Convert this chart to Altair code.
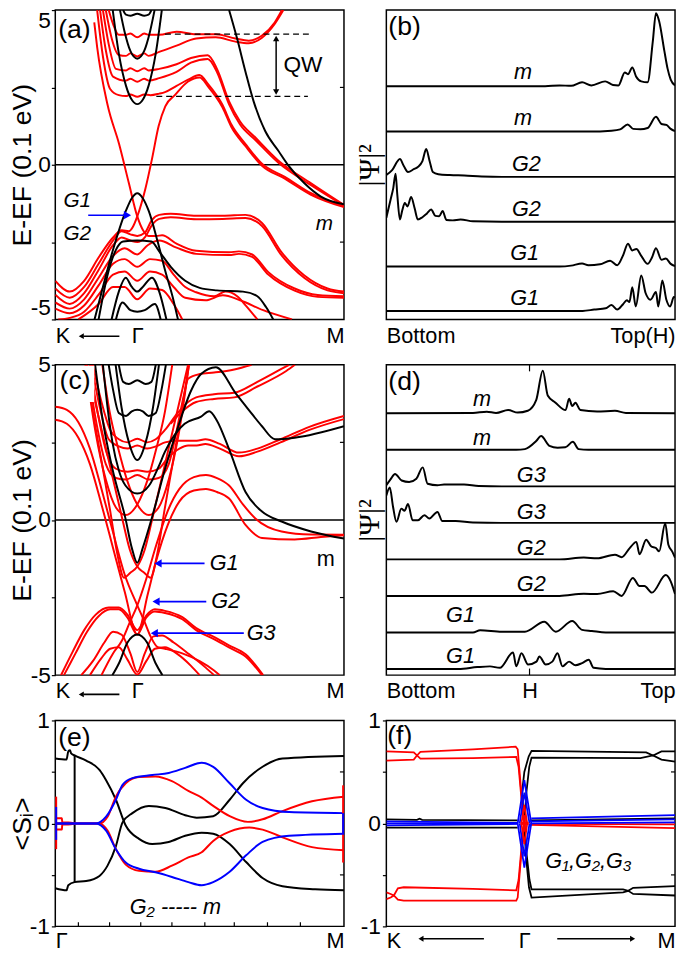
import altair as alt
import pandas as pd

FONT = "Liberation Sans"
RED, BLUE, BLACK = "#ff0000", "#0000ff", "#000000"

# ================= (a) band structure: k (K=0, Gamma=28.4, M=100), E (0.1 eV) =================
a_Q1 = [(18.5,5.0),(20,4.55),(22,4.2),(24.5,4.2),(26,4.24),(28.4,4.12),(30.8,4.24),(32.3,4.2),(36,4.2),(42,4.3),(48.8,4.22),(55.6,4.22),(62.4,4.08),(67,4.01),(71.5,4.17),(76,4.6),(78.5,5.0)]
a_Q1b = [(17.5,5.0),(19.5,4.1),(22,3.55),(24.5,3.52),(26,3.6),(28.4,3.5),(30.8,3.6),(32.3,3.52),(36,3.65),(42,3.85),(48.8,4.08),(55.6,4.12),(62.4,3.98),(67,3.93),(71.5,4.1),(76,4.55),(79,5.0)]
a_Q2 = [(16.5,5.0),(18.5,3.9),(21,3.1),(24.5,3.05),(26,3.12),(28.4,3.02),(30.8,3.12),(32.3,3.05),(36,3.1),(42,3.25),(47,3.45),(52.8,3.54),(56,3.1),(60.2,2.05),(64,1.4),(69.3,0.88),(77.2,0.14),(88.6,-0.6),(100,-1.3)]
a_Q3 = [(15.5,5.0),(17.5,3.7),(20,2.85),(24.5,2.72),(26,2.78),(28.4,2.68),(30.8,2.78),(32.3,2.72),(36,2.8),(42,3.0),(47,3.3),(52.8,3.42),(56,3.0),(60.2,1.95),(64,1.3),(69.3,0.8),(77.2,0.07),(88.6,-0.66),(100,-1.32)]
a_Q4 = [(14.5,5.0),(16.5,3.5),(19,2.45),(22,2.25),(24.5,2.22),(26,2.27),(28.4,2.2),(30.8,2.27),(33,2.25),(36,2.3),(38,2.35),(42,2.55),(46,2.75),(49.9,2.9),(53,2.6),(57.9,1.94),(61,1.3),(65.9,0.67),(71.6,0.03),(79.5,-0.39),(88.6,-0.92),(100,-1.35)]
a_Xr = [(0,-3.75),(5,-4.1),(10,-3.75),(15,-3.0),(20,-2.35),(23,-2.12),(25.5,-2.15),(26.8,-2.02),(28.4,-1.67),(31.25,-0.76),(33.5,0.19),(35.8,1.25),(38.1,1.89),(41.5,2.26),(46,2.69),(50,2.82),(53,2.52),(57.9,1.86),(61,1.22),(65.9,0.6),(71.6,-0.03),(79.5,-0.45),(88.6,-0.97),(100,-1.37)]
a_Xl = [(13.5,4.6),(14.5,3.8),(18.1,1.94),(22.1,0.67),(25.5,-0.6),(28.4,-1.67),(30.3,-2.1),(32.3,-2.3),(35,-2.3),(37,-2.28),(42,-2.55),(48.8,-2.78),(60.2,-2.83),(63.6,-2.8),(68.2,-2.9),(73.8,-3.47),(82.9,-4.0),(90.9,-4.21),(100,-4.25)]
a_V1 = [(0,-4.0),(5,-4.3),(10,-3.95),(15,-3.2),(20,-2.45),(23,-2.15),(26,-2.25),(28.4,-2.3),(31,-2.2),(33.5,-1.78),(36,-1.62),(40,-1.58),(48.8,-1.65),(58,-1.65),(65.9,-1.62),(71.6,-1.88),(78.4,-2.83),(86.3,-3.58),(94.3,-4.0),(100,-4.1)]
a_V1b = [(0,-4.2),(5,-4.5),(10,-4.15),(15,-3.4),(20,-2.6),(23,-2.35),(26,-2.45),(28.4,-2.5),(31,-2.35),(33.5,-1.95),(36,-1.75),(40,-1.7),(48.8,-1.76),(58,-1.75),(65.9,-1.72),(71.6,-1.98),(78.4,-2.93),(86.3,-3.66),(94.3,-4.06),(100,-4.15)]
a_V2b = [(0,-4.45),(5,-4.65),(10,-4.35),(15,-3.65),(20,-2.95),(24,-2.7),(28.4,-2.9),(32,-2.6),(36,-2.45),(42,-2.68),(48.8,-2.88),(60.2,-2.92),(63.6,-2.88),(68.2,-2.98),(73.8,-3.55),(82.9,-4.07),(90.9,-4.27),(100,-4.3)]
a_V3 = [(0,-4.65),(5,-4.8),(10,-4.55),(15,-3.9),(20,-3.2),(24,-3.05),(28.4,-3.3),(32.8,-3.05),(37,-3.1),(41,-3.55),(45,-3.95),(48.8,-4.12),(55,-4.25),(59,-4.1),(63,-4.25),(66,-4.55),(70,-5.0)]
a_V4 = [(1,-5.0),(5,-4.95),(10,-4.75),(15,-4.2),(20,-3.55),(24,-3.45),(28.4,-3.75),(32.8,-3.45),(37,-3.55),(41,-3.95),(45,-4.3),(52,-4.38),(58,-4.22),(64,-4.38),(72,-4.7),(82,-5.0)]
a_V5 = [(8,-5.0),(15,-4.5),(20,-3.95),(24,-3.95),(28.4,-4.35),(32.8,-4.0),(37,-4.05),(41,-4.5),(44,-5.0)]
A_RED = [a_Q1, a_Q1b, a_Q2, a_Q3, a_Q4, a_Xr, a_Xl, a_V1, a_V1b, a_V2b, a_V3, a_V4, a_V5]

a_B1 = [(19.9,5.0),(22,3.6),(24.5,2.55),(26.5,2.1),(28.4,1.96),(30.3,2.1),(32.3,2.55),(34.8,3.6),(36.9,5.0)]
a_B2 = [(22.4,5.0),(24,4.3),(26,3.68),(28.4,3.43),(30.8,3.68),(32.8,4.3),(34.4,5.0)]
a_B3 = [(23.5,5.0),(24.5,4.85),(26,4.82),(28.4,4.88),(30.8,4.82),(32.3,4.85),(33.3,5.0)]
a_B4 = [(60.2,5.0),(63,4.07),(65.9,3.0),(68.7,2.05),(72.7,1.09),(77.2,0.46),(80.7,-0.02),(86.3,-0.6),(92,-1.03),(100,-1.28)]
a_B5 = [(13.6,-5.0),(16.5,-3.95),(19.9,-2.78),(24.4,-1.5),(26.5,-1.08),(28.4,-0.92),(30.3,-1.08),(32.4,-1.5),(35.5,-2.5),(38,-3.4),(41,-4.4),(42.5,-5.0)]
a_B6 = [(15,-5.0),(18,-3.6),(21,-2.75),(23.5,-2.48),(28.4,-2.45),(33.3,-2.48),(36,-2.8),(40,-3.3),(45,-3.75),(50,-3.98),(56,-4.06),(65,-4.1),(70,-4.25),(73,-4.6),(75.5,-5.0)]
a_B7 = [(19.5,-5.0),(22,-4.1),(24.4,-3.65),(26.5,-3.95),(28.4,-4.1),(30.3,-3.95),(33.5,-3.65),(36,-4.1),(38.5,-5.0)]
a_B8 = [(21,-5.0),(23.3,-4.45),(26,-4.7),(28.4,-4.75),(31,-4.7),(34.5,-4.5),(36.5,-5.0)]
A_BLACK = [a_B1, a_B2, a_B3, a_B4, a_B5, a_B6, a_B7, a_B8]

# ================= (c) band structure =================
c_Q1 = [(13,5.0),(16,3.8),(19,2.9),(22,2.6),(25,2.5),(28.4,2.62),(31.8,2.5),(34.8,2.6),(38,2.9),(42,3.4),(46,3.8),(48.8,3.95),(55,4.05),(62,4.1),(70,4.45),(78,4.85),(81,5.0)]
c_Q2 = [(12.5,5.0),(15.5,3.6),(18.5,2.6),(22,2.37),(25,2.3),(28.4,2.4),(31.8,2.3),(34.8,2.37),(38,2.5),(42,2.55),(46,2.55),(49,2.55),(52,2.6),(57,2.45),(63.6,2.17),(70,2.3),(78,2.6),(88,3.0),(100,3.35)]
c_Q3 = [(12,5.0),(15,3.3),(18,2.1),(21,1.65),(25,1.55),(28.4,1.6),(31.8,1.55),(35.8,1.65),(39,2.0),(43,2.3),(46,2.4),(49,2.4),(52,2.45),(57,2.3),(63.6,2.05),(70,2.2),(78,2.5),(88,2.9),(100,3.25)]
c_Q4 = [(11,5.0),(14.5,3.0),(17.5,1.8),(21,1.35),(24.5,1.3),(28.4,1.45),(32.3,1.3),(35.8,1.35),(39.3,1.8),(42.3,3.0),(44.5,4.0),(46,4.55),(50,4.7),(55,4.75),(62,4.85),(68,5.0)]
c_Q5a = [(10.5,5.0),(14,2.8),(17.5,1.3),(21,0.4),(24.4,0.16),(28.4,0.5),(32,1.3),(35,2.3),(38,3.5),(40.5,5.0)]
c_Q5b = [(16.3,5.0),(18.8,3.5),(21.8,2.3),(24.8,1.3),(28.4,0.5),(32.4,0.16),(35.8,0.4),(39.3,1.3),(42.8,2.8),(46.3,5.0)]
c_TR = [(40,3.1),(44,3.5),(48.8,3.8),(55,3.9),(62,3.95),(70,4.3),(80,4.8),(83,5.0)]
c_GL = [(10.5,5.0),(13,3.5),(16,1.9),(19,0.3),(21.5,-1.1),(23.8,-1.86),(26,-1.7),(28.4,-1.5),(31,-0.95),(33.5,0.0),(36,1.0),(38.5,2.0),(41,3.0),(43.5,4.0),(46,5.0)]
c_GR = [(10.8,5.0),(13.3,4.0),(15.8,3.0),(18.3,2.0),(20.8,1.0),(23.3,0.0),(25.8,-0.95),(28.4,-1.5),(30.8,-1.7),(33,-1.86),(35.3,-1.1),(37.8,0.3),(40.8,1.9),(43.8,3.5),(46.3,5.0)]
c_P = [(0,3.65),(4,3.55),(8,3.15),(12,2.3),(16,1.0),(20,-0.4),(24,-1.75),(28.4,-2.75),(31,-3.3),(33,-3.75),(35.5,-4.1),(38,-4.15),(44,-4.3),(50,-4.55),(55,-4.85),(57,-5.0)]
c_P2 = [(0,3.23),(4,3.1),(8,2.65),(12,1.8),(16,0.5),(20,-0.9),(24,-2.3),(28.4,-3.69),(32,-2.4),(35,-1.3),(39,-0.15),(43,0.6),(48,0.95),(52.2,1.0),(56,0.9),(60.2,0.69),(65.9,-0.16),(71.6,-0.58),(82.9,-0.63),(92,-0.55),(100,-0.49)]
c_Q = [(16,-5.0),(20,-4.3),(23,-3.9),(25.8,-3.3),(28.4,-2.75),(31.5,-1.9),(35,-0.8),(39,0.3),(43,1.0),(48,1.38),(52.2,1.45),(56,1.35),(60.2,1.11),(65,0.5),(69.3,0.05),(78.4,-0.37),(88.6,-0.47),(100,-0.48)]
c_T = [(3,-5.0),(7,-4.3),(11,-3.6),(15,-3.1),(19,-2.88),(22,-2.88),(25,-3.15),(28.4,-3.69),(31.5,-3.15),(34.5,-2.95),(38,-3.0),(44,-3.2),(48.8,-3.55),(55.6,-3.87),(60,-4.1),(65.9,-4.4),(71.6,-5.0)]
c_T2 = [(2,-5.0),(6,-4.25),(10,-3.55),(14,-3.05),(18.5,-2.82),(22,-2.82),(25,-3.05),(28.4,-3.55),(31.5,-3.08),(34.5,-2.88),(38,-2.93),(44,-3.13),(48.8,-3.48),(55.6,-3.8),(60,-4.03),(65.9,-4.33),(72,-5.0)]
c_U = [(9,-5.0),(13,-4.55),(17,-3.95),(20,-3.6),(23,-3.7),(26,-4.3),(28.4,-4.9),(31,-4.3),(34,-3.75),(37,-3.72),(41,-3.95),(46,-4.3),(52,-4.75),(55,-5.0)]
c_U2 = [(12,-5.0),(16,-4.45),(19,-4.15),(22,-4.1),(25,-4.5),(28.4,-4.98),(31.5,-4.55),(34.5,-4.15),(38,-4.1),(42,-4.3),(47,-4.7),(50,-5.0)]
C_RED = [c_Q1, c_Q2, c_Q3, c_Q4, c_Q5a, c_Q5b, c_TR, c_GL, c_GR, c_P, c_P2, c_Q, c_T, c_T2, c_U, c_U2]

c_BA = [(13.8,5.0),(16.4,3.23),(19.8,1.64),(24.3,0.05),(26.5,-0.9),(28.4,-1.38),(30.3,-0.9),(33.4,0.05),(38,1.64),(42.6,3.02),(47.1,4.18),(50.5,4.7),(55.6,4.92),(62.5,4.08),(67,3.55),(71.6,3.02),(76.1,2.6),(82.9,2.65),(100,3.02)]
c_BB = [(16.5,5.0),(18,3.7),(19.8,2.5),(22,1.6),(24.3,1.11),(28.4,0.85),(32.5,1.11),(35.7,1.7),(38,2.2),(41.4,2.75),(44.8,3.1),(50.5,3.33),(53.3,3.5),(56,3.2),(60.2,2.28),(65.9,0.9),(71.6,0.27),(78.4,-0.05),(88.6,-0.37),(100,-0.6)]
c_BC = [(20.9,5.0),(23,3.6),(25.5,2.5),(28.4,1.93),(31.3,2.5),(33.8,3.6),(35.9,5.0)]
c_BD = [(18.5,5.0),(20,4.2),(22,3.45),(24.5,3.35),(26.5,3.5),(28.4,3.55),(30.3,3.5),(32.3,3.35),(34.8,3.45),(36.8,4.2),(38.3,5.0)]
c_BE = [(22,5.0),(23.5,4.45),(25.5,4.38),(28.4,4.5),(31.3,4.38),(33.3,4.45),(34.8,5.0)]
c_BV = [(19.8,-5.0),(22.1,-4.61),(25,-3.95),(28.4,-3.69),(31.8,-3.95),(34.7,-4.61),(37.1,-5.0)]
C_BLACK = [c_BA, c_BB, c_BC, c_BD, c_BE, c_BV]

# ================= (b), (d) |Psi|^2 profiles: (position, height above baseline) =================
b_m_top = [(0,0),(55,0),(60,0.02),(64,0.01),(67.8,0.09),(71,0.02),(75.8,0.11),(78.5,0.03),(80.4,0.02),(82.6,0.31),(83.7,0.27),(85.2,0.42),(86.5,0.22),(88.3,0.11),(90.5,0.09),(92.3,1.0),(93.4,1.63),(94.5,1.45),(96.3,0.79),(97.4,0.4),(98.5,0.15),(100,0.02)]
b_m_2 = [(0,0),(70,0),(78,0.02),(81,0.05),(83.6,0.16),(85.5,0.06),(88,0.05),(90.5,0.08),(93.4,0.33),(95.3,0.17),(97,0.15),(98.5,0.06),(100,0.01)]
b_G2_a = [(0,0.04),(2,0.15),(4.7,0.4),(6,0.25),(7.5,0.11),(9.5,0.17),(10.9,0.22),(12.5,0.35),(13.8,0.62),(15,0.35),(16.1,0.11),(18,0.06),(22,0.04),(27,0.03),(33,0.01),(40,0),(100,0)]
b_G2_b = [(0,0.09),(1.5,0.5),(2.4,0.75),(3.2,1.07),(3.8,0.6),(4.7,0.05),(5.5,0.25),(6.4,0.42),(7.3,0.34),(8.6,0.55),(9.8,0.3),(10.9,0.05),(12.5,0.1),(14,0.18),(15.5,0.27),(17,0.13),(18.3,0.12),(19.5,0.24),(20.8,0.04),(23,0.03),(25.7,0.05),(30,0.01),(40,0),(100,0)]
b_G1_a = [(0,0),(60,0),(64,0.02),(67.8,0.07),(70,0.03),(74,0.05),(77.5,0.13),(80,0.03),(82,0.25),(83.7,0.51),(85.2,0.36),(86.6,0.39),(88.3,0.24),(90.5,0.06),(92,0.2),(93.4,0.41),(95.3,0.15),(96.8,0.18),(98.5,0.06),(100,0.01)]
b_G1_b = [(0,0),(68,0),(72,0.03),(76,0.06),(78,0.13),(80,0.03),(82,0.15),(83.3,0.24),(84.2,0.2),(85.2,0.53),(86.4,0.1),(88.3,0.79),(89.8,0.4),(91.5,0.25),(93.4,0.42),(94.2,0.1),(95.6,0.68),(97,0.25),(98.3,0.1),(99.6,0.31),(100,0.3)]
B_TRACES = [b_G1_b, b_G1_a, b_G2_b, b_G2_a, b_m_2, b_m_top]
B_BASE = [0.19, 1.18, 2.18, 3.18, 4.19, 5.2]
B_LABELS = ["G1", "G1", "G2", "G2", "m", "m"]
B_LABEL_X = [47.9, 47.9, 48.5, 48.5, 47.3, 47.3]
B_LABEL_DY = [0.29, 0.29, 0.29, 0.29, 0.31, 0.31]

d_m_top = [(0,0),(30,0.01),(34.8,0.045),(38,0.01),(42.2,0.09),(45.5,0.02),(49,0.07),(51.9,0.36),(54.2,1.17),(55.9,0.49),(58.5,0.3),(62.1,0.09),(63.3,0.4),(64.4,0.2),(65.5,0.29),(67.2,0.09),(73,0.05),(79.2,0.07),(83,0.01),(100,0)]
d_m_2 = [(0,0),(45,0),(48,0.02),(51.9,0.24),(53.6,0.38),(56.5,0.11),(59.3,0.06),(62,0.07),(64.6,0.22),(66.6,0.02),(70,0),(100,0)]
d_G3_a = [(0,0.03),(1.5,0.2),(3,0.34),(5.3,0.16),(7.9,0.12),(10.4,0.21),(12.6,0.52),(14.3,0.07),(17.7,0.03),(20,0.05),(26.9,0.05),(32,0.01),(40,0),(100,0)]
d_G3_b = [(0,0.75),(1.2,0.97),(2.3,0.45),(3.5,0.03),(5.2,0.39),(6.3,0.33),(7.5,0.52),(9.1,0.07),(10.9,0.07),(13.2,0.21),(14.9,0.12),(17.7,0.3),(19.4,0.05),(24,0.05),(30,0.01),(40,0),(100,0)]
d_G2_a = [(0,0),(60,0),(68.4,0.05),(73,0.03),(79.2,0.13),(81.5,0.06),(84.3,0.31),(86.6,0.48),(87.7,0.14),(90,0.54),(91.7,0.36),(93.4,0.31),(94.5,0.22),(96.6,0.99),(97.7,0.4),(99,0.22),(100,0.05)]
d_G2_b = [(0,0),(60,0),(68.4,0.06),(73,0.05),(78.6,0.13),(81.5,0.0),(85.4,0.49),(87.7,0.27),(89.4,0.27),(92,0.09),(96.8,0.57),(98.5,0.4),(100,0.05)]
d_G1_a = [(0,0),(30,0),(32.5,0.06),(40,0.02),(48,0.02),(54.7,0.29),(58.7,0.02),(64.4,0.31),(67.8,0.07),(71.2,0.04),(76,0.0),(100,0)]
d_G1_b = [(0,0),(25,0),(31.5,0.05),(35.9,0.07),(39.3,0.03),(43.9,0.45),(45,0.07),(46.8,0.43),(49.1,0.12),(52,0.2),(53,0.34),(55.2,0.12),(57.5,0.2),(59.3,0.43),(61,0.07),(63.3,0.2),(65.5,0.1),(67.8,0.16),(70.1,0.25),(71.8,0.03),(76,0.0),(100,0)]
D_TRACES = [d_G1_b, d_G1_a, d_G2_b, d_G2_a, d_G3_b, d_G3_a, d_m_2, d_m_top]
D_BASE = [0.17, 1.17, 2.17, 3.17, 4.17, 5.17, 6.17, 7.17]
D_LABELS = ["G1", "G1", "G2", "G2", "G3", "G3", "m", "m"]
D_LABEL_X = [25.7, 25.7, 50.2, 50.2, 50.2, 50.2, 33.1, 33.1]
D_LABEL_DY = [0.34, 0.47, 0.31, 0.31, 0.30, 0.30, 0.33, 0.40]

# ================= (e) spin components along Gamma-M =================
e_black_a = [(0,0.63),(3.9,0.62),(4.5,0.70),(5.1,0.71),(5.5,0.68),(6.7,0.66),(10.7,0.61),(15.3,0.52),(17.6,0.42),(21,0.23),(24.4,-0.02),(29,-0.15),(33.6,-0.2),(39.3,-0.18),(45,-0.12),(50.7,-0.09),(54.7,-0.1),(60.4,-0.2),(66.1,-0.375),(71.8,-0.53),(78.7,-0.61),(90,-0.64),(100,-0.65)]
e_black_b = [(0,-0.63),(3.9,-0.65),(4.5,-0.6),(6.7,-0.57),(10.7,-0.56),(15.3,-0.51),(18.1,-0.41),(21,-0.22),(23.3,0.01),(26.7,0.10),(32.4,0.17),(38.1,0.15),(45,0.08),(49,0.056),(54.7,0.07),(60.4,0.23),(65,0.39),(71.8,0.55),(78.7,0.63),(100,0.655)]
e_red_a = [(0,0.0),(15.3,0.0),(18.1,0.065),(21,0.26),(24.4,0.39),(29,0.45),(34.7,0.455),(40.4,0.41),(46.1,0.315),(50.7,0.25),(54.7,0.17),(60.4,0.07),(66.7,0.015),(71.8,0.04),(78.7,0.12),(88.9,0.215),(100,0.26)]
e_red_b = [(0,0.0),(15.3,0.0),(18.1,-0.07),(21,-0.25),(24.4,-0.4),(29,-0.46),(34.7,-0.47),(40.4,-0.41),(46.1,-0.33),(50.7,-0.28),(54.7,-0.17),(60.4,-0.08),(67.2,-0.04),(71.8,-0.06),(78.7,-0.135),(88.9,-0.23),(100,-0.26)]
e_red_c = [(0,0.05),(2.3,0.05),(2.4,0.01),(4.5,0.01),(6.7,0.0)]
e_red_d = [(0,-0.06),(2.3,-0.06),(2.4,-0.01),(4.5,-0.01),(6.7,0.0)]
e_blue_a = [(0,0.0),(14.1,0.0),(17.6,0.065),(21,0.23),(23.3,0.375),(26.7,0.44),(33.6,0.47),(39.3,0.49),(45,0.54),(50.7,0.59),(54.7,0.55),(60.4,0.39),(66.1,0.23),(71.8,0.15),(81,0.11),(100,0.10)]
e_blue_b = [(0,0.0),(14.1,0.0),(17.6,-0.07),(21,-0.25),(24.4,-0.38),(29,-0.44),(34.7,-0.475),(40.4,-0.52),(46.1,-0.57),(50.7,-0.6),(54.7,-0.57),(60.4,-0.47),(66.1,-0.31),(71.8,-0.18),(81,-0.12),(100,-0.10)]
E_BLACK = [e_black_a, e_black_b]
E_RED = [e_red_a, e_red_b, e_red_c, e_red_d]
E_BLUE = [e_blue_a, e_blue_b]

# ================= (f) spin components along K-Gamma-M (Gamma = 47.8) =================
f_red_u1 = [(0,0.70),(9.5,0.69),(10.6,0.66),(11.8,0.63),(30,0.635),(45,0.645),(45.8,0.55),(46.6,0.3),(47.3,0.1),(47.8,0.0)]
f_red_u2 = [(0,0.61),(9.5,0.62),(10.6,0.66),(11.8,0.695),(30,0.72),(44.8,0.745),(45.5,0.72),(46.3,0.45),(47.1,0.18),(47.8,0.0)]
f_red_l1 = [(0,-0.67),(1.5,-0.685),(2.6,-0.70),(4,-0.63),(6,-0.62),(30,-0.635),(45,-0.65),(45.8,-0.55),(46.6,-0.3),(47.3,-0.1),(47.8,0.0)]
f_red_l2 = [(0,-0.735),(1.5,-0.72),(2.6,-0.70),(4,-0.74),(6,-0.75),(30,-0.75),(45,-0.75),(45.5,-0.72),(46.3,-0.45),(47.1,-0.18),(47.8,0.0)]
f_red_c1 = [(46.8,0.0),(47.8,0.18),(48.8,0.0)]
f_red_c2 = [(46.8,0.0),(47.8,-0.2),(48.8,0.0)]
f_red_r1 = [(49.8,-0.015),(100,-0.045)]
f_red_r2 = [(49.8,-0.005),(100,-0.01)]
f_black_u1 = [(47.8,0.0),(47.0,0.3),(47.8,0.5),(49.3,0.65),(50.3,0.705),(90,0.69),(92.4,0.66),(95.3,0.70),(100,0.70)]
f_black_u2 = [(47.8,0.0),(48.5,0.3),(49.5,0.55),(50.3,0.64),(88,0.635),(92.4,0.66),(95.3,0.62),(100,0.60)]
f_black_l1 = [(47.8,0.0),(48.6,-0.3),(49.6,-0.55),(50.3,-0.64),(82,-0.64),(83.8,-0.655),(85.5,-0.625),(100,-0.61)]
f_black_l2 = [(47.8,0.0),(48.3,-0.3),(49.4,-0.62),(50.3,-0.72),(82,-0.67),(83.8,-0.655),(85.5,-0.685),(100,-0.70)]
f_black_z1 = [(0,0.04),(10.6,0.035),(11.5,0.045),(12.4,0.035),(45.5,0.03)]
f_black_z2 = [(0,-0.04),(45.5,-0.04)]
f_black_r = [(49.8,0.03),(100,0.05)]
f_blue_z1 = [(0,0.02),(45.5,0.005)]
f_blue_z2 = [(0,0.0),(45.5,0.0)]
f_blue_z3 = [(0,-0.02),(45.5,-0.005)]
f_blue_d1 = [(45.5,0.0),(47.8,0.42),(50.2,0.0)]
f_blue_d2 = [(45.5,0.0),(47.8,-0.43),(50.2,0.0)]
f_blue_d3 = [(46.2,0.0),(47.8,0.3),(49.6,0.0)]
f_blue_d4 = [(46.2,0.0),(47.8,-0.32),(49.6,0.0)]
f_blue_r1 = [(50.2,0.05),(100,0.08)]
f_blue_r2 = [(50.2,0.02),(100,0.04)]
f_blue_r3 = [(50.2,0.0),(100,0.01)]
F_BLACK = [f_black_u1, f_black_u2, f_black_l1, f_black_l2, f_black_z1, f_black_z2, f_black_r]
F_RED = [f_red_u1, f_red_u2, f_red_l1, f_red_l2, f_red_r1, f_red_r2]
F_BLUE = [f_blue_z1, f_blue_z2, f_blue_z3, f_blue_d1, f_blue_d2, f_blue_d3, f_blue_d4, f_blue_r1, f_blue_r2, f_blue_r3]
F_RED_TOP = [f_red_c1, f_red_c2]

# inner tick positions on the frames
BAND_RIGHT_TICKS = [-2.5, 2.5]
SPIN_RIGHT_TICKS = [-0.5, 0.5]
E_BOTTOM_TICKS = [8, 18.8, 29.6, 40.4, 51.8, 62, 73.5, 84.9]


# ================= helpers =================
def curves_df(curves, color, tag, bases=None):
    rows = []
    for n, pts in enumerate(curves):
        b = bases[n] if bases else 0.0
        for i, (k, e) in enumerate(pts):
            rows.append({"k": k, "E": b + e, "id": f"{tag}{n}", "i": i, "c": color})
    return pd.DataFrame(rows)


def lines(df, X, Y, width=2.0, interp="monotone"):
    return alt.Chart(df).mark_line(clip=True, strokeWidth=width, interpolate=interp).encode(
        x=X, y=Y, color=alt.Color("c:N", scale=None), detail="id:N", order="i:Q")


def segs(rows, X, Y, **kw):
    return alt.Chart(pd.DataFrame(rows)).mark_rule(**kw).encode(
        x=X, x2="k2:Q", y=Y, y2="E2:Q", color=alt.Color("c:N", scale=None))


def heads(rows, X, Y, size=60):
    return alt.Chart(pd.DataFrame(rows)).mark_point(filled=True, opacity=1, size=size).encode(
        x=X, y=Y, shape=alt.Shape("s:N", scale=None), color=alt.Color("c:N", scale=None))


def texts(rows, X, Y, size=22, style="normal", align="center", baseline="middle", font=FONT):
    return alt.Chart(pd.DataFrame(rows)).mark_text(
        font=font, fontSize=size, fontStyle=style, align=align, baseline=baseline, color="black"
    ).encode(x=X, y=Y, text="t:N")


def right_ticks(vals, length):
    return [{"k": 100 - length, "k2": 100, "E": v, "E2": v, "c": BLACK} for v in vals]


def xscale():
    return alt.Scale(domain=[0, 100], nice=False, zero=False)


def band_axes(with_flush):
    X = alt.X("k:Q", scale=xscale(), axis=alt.Axis(
        values=[0, 28.4, 100], labelExpr="datum.value == 0 ? 'K' : (datum.value == 100 ? 'M' : 'Γ')",
        labelFlush=True, ticks=False, labelFontSize=22, labelPadding=6, title=None))
    Y = alt.Y("E:Q", scale=alt.Scale(domain=[-5, 5], nice=False, zero=False), axis=alt.Axis(
        values=[-5, -2.5, 0, 2.5, 5],
        labelExpr="datum.value == 5 ? '5' : (datum.value == 0 ? '0' : (datum.value == -5 ? '-5' : ''))",
        labelFlush=with_flush, tickSize=4, labelPadding=1, labelFontSize=23, minExtent=19, maxExtent=19,
        title="E-EF (0.1 eV)", titleFontSize=27, titlePadding=0))
    return X, Y


# ================= panel (a) =================
XA, YA = band_axes(True)
panel_a = alt.layer(
    segs([{"k": 0, "k2": 100, "E": 0, "E2": 0, "c": BLACK}], XA, YA, strokeWidth=1.5),
    lines(curves_df(A_RED, RED, "r"), XA, YA),
    lines(curves_df(A_BLACK, BLACK, "b"), XA, YA),
    segs(right_ticks(BAND_RIGHT_TICKS, 1.4), XA, YA, strokeWidth=1.2),
    segs([{"k": 38, "k2": 88.3, "E": 4.22, "E2": 4.22, "c": BLACK},
          {"k": 35, "k2": 87.5, "E": 2.21, "E2": 2.21, "c": BLACK}], XA, YA, strokeWidth=1.3, strokeDash=[6, 4]),
    segs([{"k": 76.5, "k2": 76.5, "E": 2.35, "E2": 4.08, "c": BLACK},
          {"k": 11.4, "k2": 24.5, "E": -1.63, "E2": -1.63, "c": BLUE},
          {"k": 9.8, "k2": 22.2, "E": -5.54, "E2": -5.54, "c": BLACK}], XA, YA, strokeWidth=1.5),
    heads([{"k": 76.5, "E": 4.08, "s": "triangle-up", "c": BLACK},
           {"k": 76.5, "E": 2.35, "s": "triangle-down", "c": BLACK}], XA, YA, size=40),
    heads([{"k": 25.0, "E": -1.63, "s": "triangle-right", "c": BLUE}], XA, YA, size=70),
    heads([{"k": 9.0, "E": -5.54, "s": "triangle-left", "c": BLACK}], XA, YA, size=35),
    texts([{"k": 1.0, "E": 4.78, "t": "(a)"}], XA, YA, size=27, align="left", baseline="top"),
    texts([{"k": 85.8, "E": 3.22, "t": "QW"}], XA, YA, size=23),
    texts([{"k": 7.6, "E": -1.19, "t": "G1"}, {"k": 7.6, "E": -2.25, "t": "G2"},
           {"k": 93.2, "E": -1.93, "t": "m"}], XA, YA, size=21, style="italic"),
).properties(width=293, height=314)

# ================= panel (c) =================
XC, YC = band_axes(False)
panel_c = alt.layer(
    segs([{"k": 0, "k2": 100, "E": 0, "E2": 0, "c": BLACK}], XC, YC, strokeWidth=1.5),
    lines(curves_df(C_RED, RED, "r"), XC, YC),
    lines(curves_df(C_BLACK, BLACK, "b"), XC, YC),
    segs(right_ticks(BAND_RIGHT_TICKS, 1.4), XC, YC, strokeWidth=1.2),
    alt.Chart(pd.DataFrame([{"k": 0.5, "k2": 13.5, "E": 4.97, "E2": 3.8}])).mark_rect(color="white").encode(
        x=XC, x2="k2:Q", y=YC, y2="E2:Q"),
    segs([{"k": 36.5, "k2": 51.7, "E": -1.4, "E2": -1.4, "c": BLUE},
          {"k": 35.8, "k2": 52.3, "E": -2.63, "E2": -2.63, "c": BLUE},
          {"k": 35.2, "k2": 65.3, "E": -3.65, "E2": -3.65, "c": BLUE},
          {"k": 9.8, "k2": 22.2, "E": -5.62, "E2": -5.62, "c": BLACK}], XC, YC, strokeWidth=1.8),
    heads([{"k": 35.6, "E": -1.4, "s": "triangle-left", "c": BLUE},
           {"k": 34.9, "E": -2.63, "s": "triangle-left", "c": BLUE},
           {"k": 34.3, "E": -3.65, "s": "triangle-left", "c": BLUE}], XC, YC, size=70),
    heads([{"k": 9.0, "E": -5.62, "s": "triangle-left", "c": BLACK}], XC, YC, size=35),
    texts([{"k": 1.5, "E": 4.9, "t": "(c)"}], XC, YC, size=27, align="left", baseline="top"),
    texts([{"k": 58.5, "E": -1.4, "t": "G1"}, {"k": 59.0, "E": -2.63, "t": "G2"},
           {"k": 71.3, "E": -3.65, "t": "G3"}], XC, YC, size=22, style="italic"),
    texts([{"k": 93.7, "E": -1.27, "t": "m"}], XC, YC, size=22),
).properties(width=293, height=315)


# ================= panels (b), (d) =================
def wave_panel(traces, bases, labels, lx, ldy, top, xvals, xlabels, tag):
    expr = " : ".join([f"datum.value == {v} ? '{l}'" for v, l in zip(xvals[:-1], xlabels[:-1])]) + f" : '{xlabels[-1]}'"
    X = alt.X("k:Q", scale=xscale(), axis=alt.Axis(
        values=xvals, labelExpr=expr, labelFlush=True, ticks=False, labelFontSize=22, labelPadding=6, title=None))
    Y = alt.Y("E:Q", scale=alt.Scale(domain=[0, top], nice=False, zero=False), axis=alt.Axis(
        labels=False, ticks=False, title="|Ψ|²", titleFont="Liberation Serif", titleFontSize=30,
        titlePadding=2, minExtent=0, maxExtent=0))
    lab_rows = [{"k": x, "E": b + d, "t": t} for x, b, d, t in zip(lx, bases, ldy, labels)]
    layers = [
        lines(curves_df(traces, BLACK, tag, bases), X, Y, width=2.0),
        texts(lab_rows, X, Y, size=22, style="italic"),
        texts([{"k": 0.7, "E": top - 0.09 * top / 6.9, "t": f"({tag})"}], X, Y, size=27, align="left", baseline="top"),
    ]
    if len(xvals) == 3:
        layers.append(segs([{"k": xvals[1], "k2": xvals[1], "E": top, "E2": top - 0.18, "c": BLACK},
                            {"k": xvals[1], "k2": xvals[1], "E": 0, "E2": 0.18, "c": BLACK}], X, Y, strokeWidth=1.2))
    return alt.layer(*layers)


panel_b = wave_panel(B_TRACES, B_BASE, B_LABELS, B_LABEL_X, B_LABEL_DY, 6.9,
                     [0, 100], ["Bottom", "Top(H)"], "b").properties(width=293, height=314)
panel_d = wave_panel(D_TRACES, D_BASE, D_LABELS, D_LABEL_X, D_LABEL_DY, 8.5,
                     [0, 49.6, 100], ["Bottom", "H", "Top"], "d").properties(width=293, height=315)


# ================= panels (e), (f) =================
def spin_axes(xvals, xlabels, title):
    expr = " : ".join([f"datum.value == {v} ? '{l}'" for v, l in zip(xvals[:-1], xlabels[:-1])]) + f" : '{xlabels[-1]}'"
    X = alt.X("k:Q", scale=xscale(), axis=alt.Axis(
        values=xvals, labelExpr=expr, labelFlush=True, ticks=False, labelFontSize=22, labelPadding=4, title=None))
    yax = dict(values=[-1, -0.5, 0, 0.5, 1],
               labelExpr="datum.value == 1 ? '1' : (datum.value == 0 ? '0' : (datum.value == -1 ? '-1' : ''))",
               tickSize=4, labelPadding=2, labelFontSize=23, minExtent=19, maxExtent=19)
    if title:
        yax.update(title=title, titleFontSize=27, titlePadding=0)
    else:
        yax.update(title=None)
    Y = alt.Y("E:Q", scale=alt.Scale(domain=[-1, 1], nice=False, zero=False), axis=alt.Axis(**yax))
    return X, Y


XE, YE = spin_axes([0, 100], ["Γ", "M"], "<Sᵢ>")
panel_e = alt.layer(
    lines(curves_df(E_BLACK, BLACK, "k"), XE, YE),
    segs([{"k": 6.7, "k2": 6.7, "E": -0.57, "E2": 0.66, "c": BLACK}], XE, YE, strokeWidth=2),
    lines(curves_df(E_RED, RED, "r"), XE, YE),
    lines(curves_df(E_BLUE, BLUE, "u"), XE, YE),
    segs([{"k": 0.3, "k2": 0.3, "E": -0.25, "E2": 0.26, "c": RED},
          {"k": 99.7, "k2": 99.7, "E": -0.38, "E2": 0.37, "c": RED},
          {"k": 0.3, "k2": 0.3, "E": -0.16, "E2": 0.16, "c": BLUE},
          {"k": 99.7, "k2": 99.7, "E": -0.11, "E2": 0.1, "c": BLUE}], XE, YE, strokeWidth=2),
    segs(right_ticks(SPIN_RIGHT_TICKS, 1.4), XE, YE, strokeWidth=1.2),
    segs([{"k": v, "k2": v, "E": -1, "E2": -0.96, "c": BLACK} for v in E_BOTTOM_TICKS], XE, YE, strokeWidth=1.2),
    texts([{"k": 1.0, "E": 0.95, "t": "(e)"}], XE, YE, size=27, align="left", baseline="top"),
    texts([{"k": 41.6, "E": -0.81, "t": "G₂ ----- m"}], XE, YE, size=22, style="italic"),
).properties(width=293, height=209)

XF, YF = spin_axes([0, 47.8, 100], ["K", "Γ", "M"], None)
panel_f = alt.layer(
    lines(curves_df(F_BLACK, BLACK, "k"), XF, YF, width=1.8, interp="linear"),
    lines(curves_df(F_RED, RED, "r"), XF, YF, width=1.8, interp="linear"),
    lines(curves_df(F_BLUE, BLUE, "u"), XF, YF, width=1.8, interp="linear"),
    lines(curves_df(F_RED_TOP, RED, "t"), XF, YF, width=1.8, interp="linear"),
    segs([{"k": 46.5, "k2": 49.3, "E": 0, "E2": 0, "c": RED},
          {"k": 47.8, "k2": 47.8, "E": -0.08, "E2": 0.08, "c": RED}], XF, YF, strokeWidth=3),
    segs(right_ticks(SPIN_RIGHT_TICKS, 1.4), XF, YF, strokeWidth=1.2),
    segs([{"k": 12.3, "k2": 33.8, "E": -1.12, "E2": -1.12, "c": BLACK},
          {"k": 59.2, "k2": 84.7, "E": -1.12, "E2": -1.12, "c": BLACK}], XF, YF, strokeWidth=1.3),
    heads([{"k": 12.0, "E": -1.12, "s": "triangle-left", "c": BLACK},
           {"k": 85.3, "E": -1.12, "s": "triangle-right", "c": BLACK}], XF, YF, size=35),
    texts([{"k": 0.3, "E": 0.97, "t": "(f)"}], XF, YF, size=27, align="left", baseline="top"),
    texts([{"k": 70.0, "E": -0.37, "t": "G₁,G₂,G₃"}], XF, YF, size=22, style="italic"),
).properties(width=293, height=209)

chart = alt.concat(
    panel_a, panel_b, panel_c, panel_d, panel_e, panel_f,
    columns=2, spacing={"row": 46, "column": 43}, bounds="flush"
).properties(
    padding={"left": 0, "top": -7, "right": 0, "bottom": 0}
).configure_view(stroke="black", strokeWidth=1.5).configure_axis(
    grid=False, domain=False, labelFont=FONT, titleFont=FONT, labelColor="black", titleColor="black",
    tickColor="black", tickWidth=1.2, titleFontWeight="normal"
)

chart.save("out.html", embed_options={"renderer": "svg", "actions": False})
